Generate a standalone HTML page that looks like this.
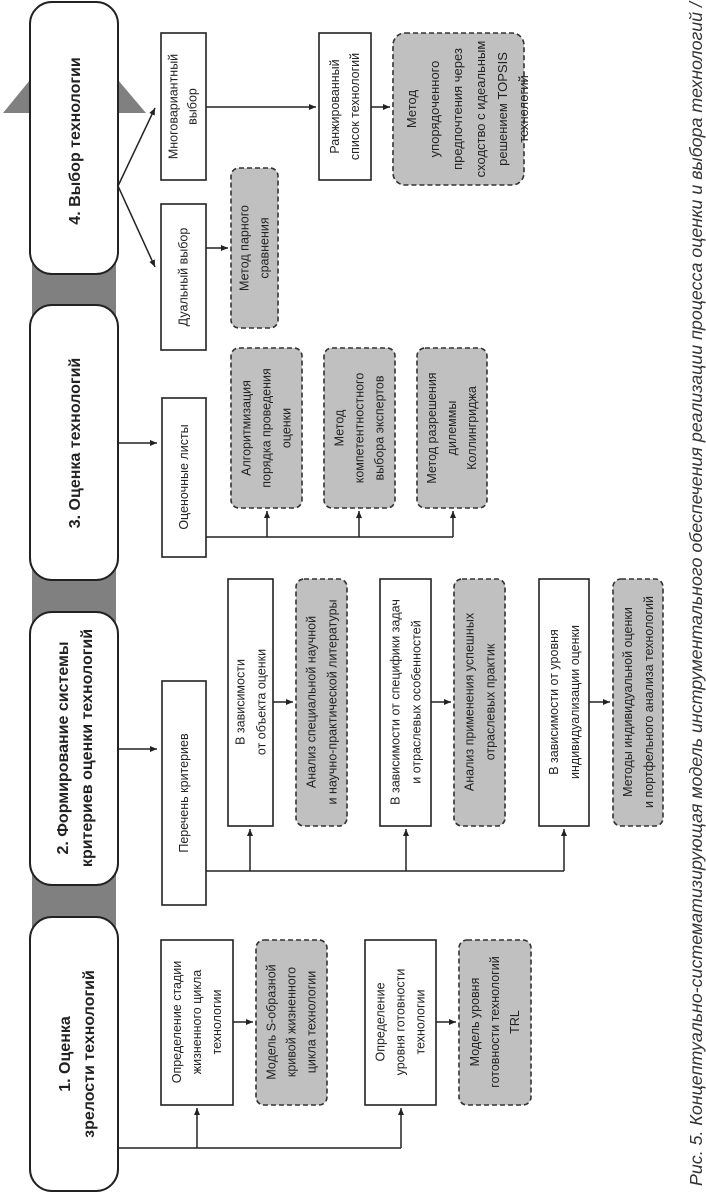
<!DOCTYPE html>
<html><head><meta charset="utf-8"><style>
html,body{margin:0;padding:0;background:#fff}
svg{display:block}
text{font-family:"Liberation Sans",sans-serif;fill:#222}
.t{font-size:12.5px}
.b{font-size:16px;font-weight:bold}
.w{fill:#fff;stroke:#222;stroke-width:1.6}
.d{fill:#c0c0c0;stroke:#333;stroke-width:1.6;stroke-dasharray:5,3}
.l{stroke:#222;stroke-width:1.5;fill:none}
</style></head><body>
<svg width="706" height="1192" viewBox="0 0 706 1192" xmlns="http://www.w3.org/2000/svg">
<defs><marker id="a" markerUnits="userSpaceOnUse" markerWidth="8" markerHeight="8" refX="7" refY="4" orient="auto"><path d="M0,1 L7,4 L0,7z" fill="#222"/></marker></defs>

<!-- gray spine -->
<rect x="32" y="262" width="84" height="56" fill="#808080"/>
<rect x="32" y="568" width="84" height="56" fill="#808080"/>
<rect x="32" y="873" width="84" height="56" fill="#808080"/>
<polygon points="3,113 30,80 30,113" fill="#808080"/>
<polygon points="118,80 146,113 118,113" fill="#808080"/>

<!-- main boxes -->
<rect x="30" y="2" width="88" height="272" rx="22" fill="#fff" stroke="#222" stroke-width="2"/>
<rect x="30" y="305" width="88" height="275" rx="22" fill="#fff" stroke="#222" stroke-width="2"/>
<rect x="30" y="612" width="88" height="273" rx="22" fill="#fff" stroke="#222" stroke-width="2"/>
<rect x="30" y="917" width="88" height="274" rx="22" fill="#fff" stroke="#222" stroke-width="2"/>

<text class="b" text-anchor="middle" transform="translate(74,141) rotate(-90)" dy="6">4. Выбор технологии</text>
<text class="b" text-anchor="middle" transform="translate(74,443) rotate(-90)" dy="6">3. Оценка технологий</text>
<text class="b" text-anchor="middle" transform="translate(74,748) rotate(-90)"><tspan x="0" dy="-6">2. Формирование системы</tspan><tspan x="0" dy="24">критериев оценки технологий</tspan></text>
<text class="b" text-anchor="middle" transform="translate(76,1054) rotate(-90)"><tspan x="0" dy="-6">1. Оценка</tspan><tspan x="0" dy="24">зрелости технологий</tspan></text>

<!-- column 4 -->
<line class="l" x1="118" y1="186" x2="155" y2="108" marker-end="url(#a)"/>
<line class="l" x1="118" y1="186" x2="155" y2="267" marker-end="url(#a)"/>
<rect class="w" x="161" y="33" width="45" height="147"/>
<text class="t" text-anchor="middle" transform="translate(183.5,106.5) rotate(-90)"><tspan x="0" dy="-6">Многовариантный</tspan><tspan x="0" dy="19">выбор</tspan></text>
<rect class="w" x="161" y="204" width="45" height="146"/>
<text class="t" text-anchor="middle" transform="translate(183.5,277) rotate(-90)" dy="4">Дуальный выбор</text>
<line class="l" x1="206" y1="248" x2="228" y2="248" marker-end="url(#a)"/>
<rect class="d" x="231" y="168" width="47" height="160" rx="8"/>
<text class="t" text-anchor="middle" transform="translate(254.5,248) rotate(-90)"><tspan x="0" dy="-6">Метод парного</tspan><tspan x="0" dy="20">сравнения</tspan></text>
<line class="l" x1="206" y1="107" x2="316" y2="107" marker-end="url(#a)"/>
<rect class="w" x="319" y="33" width="52" height="147"/>
<text class="t" text-anchor="middle" transform="translate(345,106.5) rotate(-90)"><tspan x="0" dy="-6">Ранжированный</tspan><tspan x="0" dy="20">список технологий</tspan></text>
<line class="l" x1="371" y1="107" x2="390" y2="107" marker-end="url(#a)"/>
<rect class="d" x="393" y="33" width="131" height="152" rx="12"/>
<text class="t" text-anchor="middle" transform="translate(458,109) rotate(-90)" style="font-size:13px"><tspan x="0" dy="-42">Метод</tspan><tspan x="0" dy="23">упорядоченного</tspan><tspan x="0" dy="23">предпочтения через</tspan><tspan x="0" dy="23">сходство с идеальным</tspan><tspan x="0" dy="22">решением TOPSIS</tspan><tspan x="0" dy="21">технологий</tspan></text>

<!-- column 3 -->
<line class="l" x1="118" y1="443" x2="157" y2="443" marker-end="url(#a)"/>
<rect class="w" x="162" y="398" width="44" height="159"/>
<text class="t" text-anchor="middle" transform="translate(184,477) rotate(-90)" dy="4">Оценочные листы</text>
<polyline class="l" points="206,537 453,537"/>
<line class="l" x1="267" y1="537" x2="267" y2="511" marker-end="url(#a)"/>
<line class="l" x1="359" y1="537" x2="359" y2="511" marker-end="url(#a)"/>
<line class="l" x1="453" y1="537" x2="453" y2="511" marker-end="url(#a)"/>
<rect class="d" x="231" y="348" width="71" height="160" rx="8"/>
<text class="t" text-anchor="middle" transform="translate(266.5,428) rotate(-90)"><tspan x="0" dy="-16">Алгоритмизация</tspan><tspan x="0" dy="20">порядка проведения</tspan><tspan x="0" dy="20">оценки</tspan></text>
<rect class="d" x="324" y="348" width="71" height="160" rx="8"/>
<text class="t" text-anchor="middle" transform="translate(359.5,428) rotate(-90)"><tspan x="0" dy="-16">Метод</tspan><tspan x="0" dy="20">компетентностного</tspan><tspan x="0" dy="20">выбора экспертов</tspan></text>
<rect class="d" x="417" y="348" width="70" height="160" rx="8"/>
<text class="t" text-anchor="middle" transform="translate(452,428) rotate(-90)"><tspan x="0" dy="-16">Метод разрешения</tspan><tspan x="0" dy="20">дилеммы</tspan><tspan x="0" dy="20">Коллингриджа</tspan></text>

<!-- column 2 -->
<line class="l" x1="118" y1="749" x2="157" y2="749" marker-end="url(#a)"/>
<rect class="w" x="162" y="681" width="44" height="224"/>
<text class="t" text-anchor="middle" transform="translate(184,793) rotate(-90)" dy="4">Перечень критериев</text>
<polyline class="l" points="206,871 564,871"/>
<line class="l" x1="250" y1="871" x2="250" y2="829" marker-end="url(#a)"/>
<line class="l" x1="406" y1="871" x2="406" y2="829" marker-end="url(#a)"/>
<line class="l" x1="564" y1="871" x2="564" y2="829" marker-end="url(#a)"/>

<rect class="w" x="228" y="579" width="45" height="247"/>
<text class="t" text-anchor="middle" transform="translate(250.5,702) rotate(-90)"><tspan x="0" dy="-6">В зависимости</tspan><tspan x="0" dy="21">от объекта оценки</tspan></text>
<line class="l" x1="273" y1="702" x2="293" y2="702" marker-end="url(#a)"/>
<rect class="d" x="296" y="579" width="51" height="247" rx="8"/>
<text class="t" text-anchor="middle" transform="translate(321.5,702) rotate(-90)"><tspan x="0" dy="-6">Анализ специальной научной</tspan><tspan x="0" dy="21">и научно-практической литературы</tspan></text>

<rect class="w" x="380" y="579" width="51" height="247"/>
<text class="t" text-anchor="middle" transform="translate(405.5,702) rotate(-90)"><tspan x="0" dy="-6">В зависимости от специфики задач</tspan><tspan x="0" dy="21">и отраслевых особенностей</tspan></text>
<line class="l" x1="431" y1="702" x2="451" y2="702" marker-end="url(#a)"/>
<rect class="d" x="454" y="579" width="51" height="247" rx="8"/>
<text class="t" text-anchor="middle" transform="translate(479.5,702) rotate(-90)"><tspan x="0" dy="-6">Анализ применения успешных</tspan><tspan x="0" dy="21">отраслевых практик</tspan></text>

<rect class="w" x="539" y="579" width="50" height="247"/>
<text class="t" text-anchor="middle" transform="translate(564,702) rotate(-90)"><tspan x="0" dy="-6">В зависимости от уровня</tspan><tspan x="0" dy="21">индивидуализации оценки</tspan></text>
<line class="l" x1="589" y1="702" x2="610" y2="702" marker-end="url(#a)"/>
<rect class="d" x="613" y="579" width="50" height="247" rx="8"/>
<text class="t" text-anchor="middle" transform="translate(638,702) rotate(-90)"><tspan x="0" dy="-6">Методы индивидуальной оценки</tspan><tspan x="0" dy="21">и портфельного анализа технологий</tspan></text>

<!-- column 1 -->
<polyline class="l" points="118,1148 401,1148"/>
<line class="l" x1="197" y1="1148" x2="197" y2="1108" marker-end="url(#a)"/>
<line class="l" x1="401" y1="1148" x2="401" y2="1108" marker-end="url(#a)"/>
<rect class="w" x="161" y="940" width="72" height="165"/>
<text class="t" text-anchor="middle" transform="translate(197,1022) rotate(-90)"><tspan x="0" dy="-16">Определение стадии</tspan><tspan x="0" dy="20">жизненного цикла</tspan><tspan x="0" dy="20">технологии</tspan></text>
<line class="l" x1="233" y1="1022" x2="253" y2="1022" marker-end="url(#a)"/>
<rect class="d" x="256" y="940" width="71" height="165" rx="8"/>
<text class="t" text-anchor="middle" transform="translate(291.5,1022) rotate(-90)"><tspan x="0" dy="-16">Модель S-образной</tspan><tspan x="0" dy="20">кривой жизненного</tspan><tspan x="0" dy="20">цикла технологии</tspan></text>
<rect class="w" x="365" y="940" width="71" height="165"/>
<text class="t" text-anchor="middle" transform="translate(400.5,1022) rotate(-90)"><tspan x="0" dy="-16">Определение</tspan><tspan x="0" dy="20">уровня готовности</tspan><tspan x="0" dy="20">технологии</tspan></text>
<line class="l" x1="436" y1="1022" x2="456" y2="1022" marker-end="url(#a)"/>
<rect class="d" x="459" y="940" width="72" height="165" rx="8"/>
<text class="t" text-anchor="middle" transform="translate(495,1022) rotate(-90)"><tspan x="0" dy="-16">Модель уровня</tspan><tspan x="0" dy="20">готовности технологий</tspan><tspan x="0" dy="20">TRL</tspan></text>

<!-- caption -->
<text transform="translate(702,1186) rotate(-90)" style="font-size:17.5px;font-style:italic;fill:#333" textLength="1184" lengthAdjust="spacingAndGlyphs">Рис. 5. Концептуально-систематизирующая модель инструментального обеспечения реализации процесса оценки и выбора технологий /</text>
</svg>
</body></html>
